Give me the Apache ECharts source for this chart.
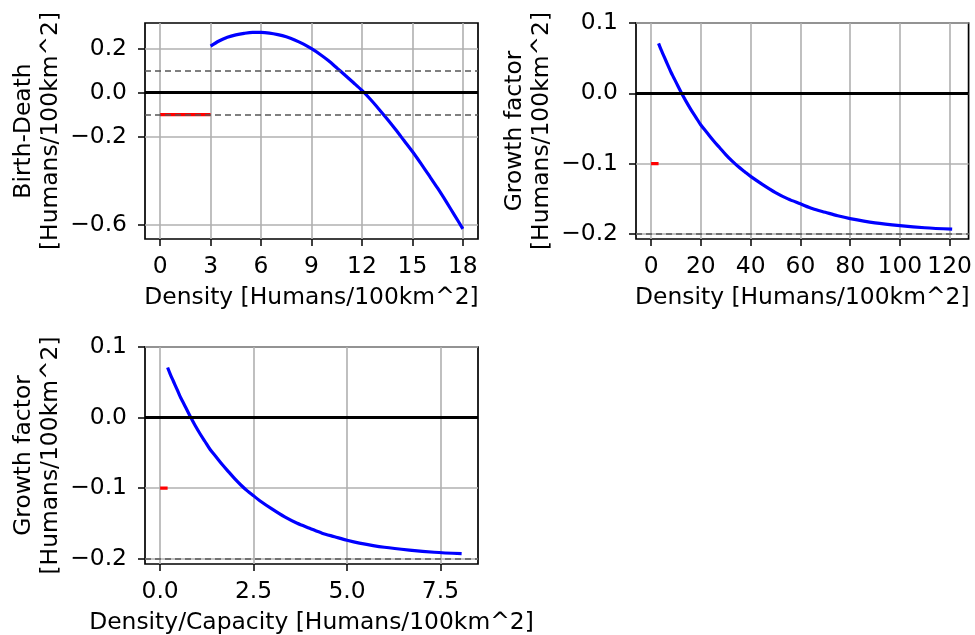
<!DOCTYPE html>
<html>
<head>
<meta charset="utf-8">
<script src="https://cdn.jsdelivr.net/npm/echarts@6/dist/echarts.min.js"></script>
<style>
html,body{margin:0;padding:0;background:#fff;}
#chart{width:975px;height:635px;}
</style>
</head>
<body>
<div id="chart"></div>
<script>
// ---- Data ----
const densityBD = [3,3.5,4,4.5,5,5.5,6,6.5,7,7.5,8,8.5,9,9.5,10,10.5,11,11.5,12,12.5,13,13.5,14,14.5,15,15.5,16,16.5,17,17.5,18];
const birthDeath = [0.212,0.235,0.252,0.263,0.270,0.274,0.274,0.271,0.264,0.254,0.240,0.222,0.200,0.175,0.146,0.113,0.079,0.045,0.010,-0.030,-0.074,-0.120,-0.168,-0.218,-0.268,-0.322,-0.378,-0.435,-0.495,-0.557,-0.620];

const densityGF = [3,4,5,6,7,8,9,10,12,14,16,18,20,22.5,25,27.5,30,32.5,35,37.5,40,45,50,55,60,65,70,75,80,90,100,110,121];
const growthFactor = [0.071,0.062,0.054,0.046,0.038,0.030,0.023,0.016,0.002,-0.011,-0.023,-0.034,-0.045,-0.056,-0.067,-0.077,-0.087,-0.096,-0.104,-0.111,-0.118,-0.130,-0.141,-0.150,-0.157,-0.164,-0.169,-0.174,-0.178,-0.184,-0.188,-0.191,-0.193];

const densityCapacity = [0.2,0.267,0.333,0.4,0.467,0.533,0.6,0.667,0.8,0.933,1.067,1.2,1.333,1.5,1.667,1.833,2.0,2.167,2.333,2.5,2.667,3.0,3.333,3.667,4.0,4.333,4.667,5.0,5.333,6.0,6.667,7.333,8.067];
const growthFactorCap = [0.071,0.062,0.054,0.046,0.038,0.030,0.023,0.016,0.002,-0.011,-0.023,-0.034,-0.045,-0.056,-0.067,-0.077,-0.087,-0.096,-0.104,-0.111,-0.118,-0.130,-0.141,-0.150,-0.157,-0.164,-0.169,-0.174,-0.178,-0.184,-0.188,-0.191,-0.193];

const redBD = [[0,-0.1],[3,-0.1]];
const redGF = [[0,-0.1],[3,-0.1]];
const redCap = [[0,-0.1],[0.2,-0.1]];

const xTicks1 = [0,3,6,9,12,15,18];
const yTicks1 = [0.2,0.0,-0.2,-0.6];
const xTicks2 = [0,20,40,60,80,100,120];
const yTicks2 = [0.1,0.0,-0.1,-0.2];
const xTicks3 = [0,2.5,5,7.5];
const yTicks3 = [0.1,0.0,-0.1,-0.2];

const dashed1 = [0.1,-0.1];
const dashed2 = [-0.2];
const dashed3 = [-0.2];

// ---- Styling helpers ----
const FONT = 'DejaVu Sans';
const FS = 23.4;
function fmt1(v){ const s = Math.abs(v).toFixed(1); return v < -1e-9 ? '\u2212' + s : s; }
function fmtInt(v){ return String(Math.round(v)); }

function xAxis(idx, min, max, ticks, formatter, name){
  return {
    type:'value', gridIndex: idx, min: min, max: max,
    name: name, nameLocation:'middle', nameGap: 47,
    nameTextStyle:{fontFamily:FONT,fontSize:FS,color:'#000'},
    axisLine:{show:false, onZero:false},
    axisTick:{show:true, customValues: ticks, length:7, lineStyle:{color:'#000',width:1.5}},
    axisLabel:{show:true, customValues: ticks, formatter: formatter, margin:16, fontFamily:FONT, fontSize:FS, color:'#000', showMinLabel:true, showMaxLabel:true},
    splitLine:{show:true, lineStyle:{color:'#b0b0b0', width:1.6}}
  };
}
function yAxis(idx, min, max, ticks, name){
  return {
    type:'value', gridIndex: idx, min: min, max: max,
    name: name, nameLocation:'middle', nameGap: 81, nameRotate: 90,
    nameTextStyle:{fontFamily:FONT,fontSize:FS,color:'#000',lineHeight:27},
    axisLine:{show:false, onZero:false},
    axisTick:{show:true, customValues: ticks, length:7, lineStyle:{color:'#000',width:1.5}},
    axisLabel:{show:true, customValues: ticks, formatter: fmt1, margin:18, fontFamily:FONT, fontSize:FS, color:'#000', showMinLabel:true, showMaxLabel:true},
    splitLine:{show:true, lineStyle:{color:'#b0b0b0', width:1.6}}
  };
}
function zip(xs, ys){ return xs.map((x,i)=>[x, ys[i]]); }

function curve(idx, data){
  return {type:'line', xAxisIndex:idx, yAxisIndex:idx, data:data, showSymbol:false, symbol:'none',
    smooth:0.3, lineStyle:{color:'#0000ff', width:3.2}, z:3, silent:true, animation:false};
}
function red(idx, data){
  return {type:'line', xAxisIndex:idx, yAxisIndex:idx, data:data, showSymbol:false, symbol:'none',
    lineStyle:{color:'#ff0000', width:3.2}, z:3, silent:true, animation:false};
}
function hlines(idx, dashedVals){
  const md = [{yAxis:0, lineStyle:{color:'#000', width:3, type:'solid'}}];
  dashedVals.forEach(v => md.push({yAxis:v, lineStyle:{color:'#555', width:1.5, type:[6,4]}}));
  return {type:'line', xAxisIndex:idx, yAxisIndex:idx, data:[], z:5, silent:true, animation:false,
    markLine:{silent:true, symbol:['none','none'], label:{show:false}, animation:false, data: md}};
}

const chart = echarts.init(document.getElementById('chart'), null, {renderer:'canvas'});
chart.setOption({
  animation:false,
  backgroundColor:'#fff',
  grid:[
    {left:145, top:23, width:333, height:216, show:true, borderColor:'#000', borderWidth:1.7, backgroundColor:'transparent'},
    {left:636, top:23, width:333, height:216, show:true, borderColor:'#000', borderWidth:1.7, backgroundColor:'transparent'},
    {left:145, top:347, width:333, height:217, show:true, borderColor:'#000', borderWidth:1.7, backgroundColor:'transparent'}
  ],
  xAxis:[
    xAxis(0, -0.9, 18.9, xTicks1, fmtInt, 'Density [Humans/100km^2]'),
    xAxis(1, -6.07, 127.6, xTicks2, fmtInt, 'Density [Humans/100km^2]'),
    xAxis(2, -0.405, 8.505, xTicks3, fmt1, 'Density/Capacity [Humans/100km^2]')
  ],
  yAxis:[
    yAxis(0, -0.666, 0.317, yTicks1, 'Birth-Death\n[Humans/100km^2]'),
    yAxis(1, -0.207, 0.1, yTicks2, 'Growth factor\n[Humans/100km^2]'),
    yAxis(2, -0.2077, 0.1, yTicks3, 'Growth factor\n[Humans/100km^2]')
  ],
  series:[
    curve(0, zip(densityBD, birthDeath)),
    red(0, redBD),
    hlines(0, dashed1),
    curve(1, zip(densityGF, growthFactor)),
    red(1, redGF),
    hlines(1, dashed2),
    curve(2, zip(densityCapacity, growthFactorCap)),
    red(2, redCap),
    hlines(2, dashed3)
  ]
});
</script>
</body>
</html>
